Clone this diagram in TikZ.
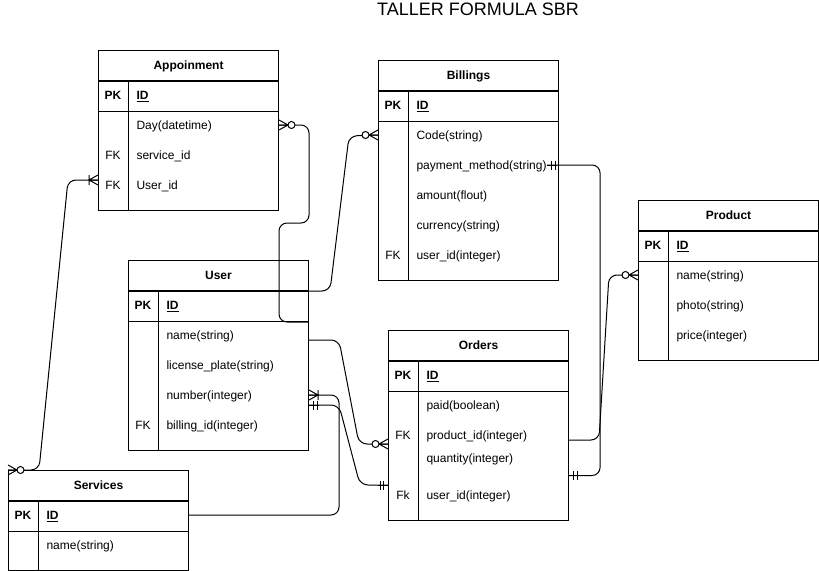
\documentclass[tikz,border=0pt]{standalone}
\usepackage{fontspec}
\setmainfont{Liberation Sans}
\usetikzlibrary{calc}

\newcommand{\erfont}{\fontsize{9}{11}\selectfont}

\tikzset{
  tbl/.style={draw, anchor=north west, minimum width=135pt, inner sep=0pt},
  tblhead/.style={draw, anchor=north west, minimum width=135pt, minimum height=22.5pt, inner sep=0pt, text height=6.5pt, text depth=0pt, font=\erfont\bfseries},
  pk/.style={inner sep=0pt, text height=6.5pt, text depth=0pt, font=\erfont\bfseries},
  fk/.style={inner sep=0pt, text height=6.5pt, text depth=0pt, font=\erfont},
  fld/.style={anchor=west, inner sep=0pt, text height=6.5pt, text depth=0pt, font=\erfont},
  conn/.style={draw, rounded corners=6pt},
  zmany/.pic={
    \draw (0,-5) -- (9,0) -- (0,5) (0,0) -- (9,0);
    \draw[fill=white] (12.5,0) circle [radius=3.5];
  },
  omany/.pic={
    \draw (0,-5) -- (9,0) -- (0,5) (0,0) -- (9,0) (9,-5) -- (9,5);
  },
  mone/.pic={
    \draw (0,0) -- (10,0) (4.5,-4.5) -- (4.5,4.5) (8,-4.5) -- (8,4.5);
  }
}

\begin{document}
\begin{tikzpicture}[x=0.75pt, y=-0.75pt, line width=0.75pt]
  \useasboundingbox (0,0) rectangle (819,571);

  \node[inner sep=0pt, text height=9.7pt, text depth=0pt, font=\fontsize{13.5}{16}\selectfont] (title) at (478,9.5) {TALLER FORMULA SBR};

  % Appoinment
  \node[tbl, minimum height=120pt] (app) at (98,50) {};
  \node[tblhead] (app-h) at (app.north west) {Appoinment};
  \node[tblhead] (app-p) at (app-h.south west) {};
  \draw ($(app-p.north west)+(30,0)$) -- ($(app.south west)+(30,0)$);
  \node[pk] (app-pk) at (113,95) {PK};
  \node[fld] (app-id) at (136,95) {\bfseries\underline{ID}};
  \node[fld] (app-day) at (136,125) {Day(datetime)};
  \node[fk] (app-fk1) at (113,155) {FK};
  \node[fld] (app-sid) at (136,155) {service\_id};
  \node[fk] (app-fk2) at (113,185) {FK};
  \node[fld] (app-uid) at (136,185) {User\_id};

  % Billings
  \node[tbl, minimum height=165pt] (bil) at (378,60) {};
  \node[tblhead] (bil-h) at (bil.north west) {Billings};
  \node[tblhead] (bil-p) at (bil-h.south west) {};
  \draw ($(bil-p.north west)+(30,0)$) -- ($(bil.south west)+(30,0)$);
  \node[pk] (bil-pk) at (393,105) {PK};
  \node[fld] (bil-id) at (416,105) {\bfseries\underline{ID}};
  \node[fld] (bil-code) at (416,135) {Code(string)};
  \node[fld] (bil-pay) at (416,165) {payment\_method(string)};
  \node[fld] (bil-amt) at (416,195) {amount(flout)};
  \node[fld] (bil-cur) at (416,225) {currency(string)};
  \node[fk] (bil-fk) at (393,255) {FK};
  \node[fld] (bil-uid) at (416,255) {user\_id(integer)};

  % Product
  \node[tbl, minimum height=120pt] (prod) at (638,200) {};
  \node[tblhead] (prod-h) at (prod.north west) {Product};
  \node[tblhead] (prod-p) at (prod-h.south west) {};
  \draw ($(prod-p.north west)+(30,0)$) -- ($(prod.south west)+(30,0)$);
  \node[pk] (prod-pk) at (653,245) {PK};
  \node[fld] (prod-id) at (676,245) {\bfseries\underline{ID}};
  \node[fld] (prod-name) at (676,275) {name(string)};
  \node[fld] (prod-photo) at (676,305) {photo(string)};
  \node[fld] (prod-price) at (676,335) {price(integer)};

  % User
  \node[tbl, minimum height=142.5pt] (user) at (128,260) {};
  \node[tblhead] (user-h) at (user.north west) {User};
  \node[tblhead] (user-p) at (user-h.south west) {};
  \draw ($(user-p.north west)+(30,0)$) -- ($(user.south west)+(30,0)$);
  \node[pk] (user-pk) at (143,305) {PK};
  \node[fld] (user-id) at (166,305) {\bfseries\underline{ID}};
  \node[fld] (user-name) at (166,335) {name(string)};
  \node[fld] (user-lic) at (166,365) {license\_plate(string)};
  \node[fld] (user-num) at (166,395) {number(integer)};
  \node[fk] (user-fk) at (143,425) {FK};
  \node[fld] (user-bid) at (166,425) {billing\_id(integer)};

  % Orders
  \node[tbl, minimum height=142.5pt] (ord) at (388,330) {};
  \node[tblhead] (ord-h) at (ord.north west) {Orders};
  \node[tblhead] (ord-p) at (ord-h.south west) {};
  \draw ($(ord-p.north west)+(30,0)$) -- ($(ord.south west)+(30,0)$);
  \node[pk] (ord-pk) at (403,375) {PK};
  \node[fld] (ord-id) at (426,375) {\bfseries\underline{ID}};
  \node[fld] (ord-paid) at (426,405) {paid(boolean)};
  \node[fk] (ord-fk1) at (403,435) {FK};
  \node[fld] (ord-prod) at (426,435) {product\_id(integer)};
  \node[fld] (ord-qty) at (426,458) {quantity(integer)};
  \node[fk] (ord-fk2) at (403,495) {Fk};
  \node[fld] (ord-uid) at (426,495) {user\_id(integer)};

  % Services
  \node[tbl, minimum height=75pt] (srv) at (8,470) {};
  \node[tblhead] (srv-h) at (srv.north west) {Services};
  \node[tblhead] (srv-p) at (srv-h.south west) {};
  \draw ($(srv-p.north west)+(30,0)$) -- ($(srv.south west)+(30,0)$);
  \node[pk] (srv-pk) at (23,515) {PK};
  \node[fld] (srv-id) at (46,515) {\bfseries\underline{ID}};
  \node[fld] (srv-name) at (46,545) {name(string)};

  % relations
  \draw[conn] (app-day -| app.east) -- ++(30,0) -- ++(0,98) -- ++(-30,0) -- ++(0,99) -- ++(30,0);
  \pic at (app-day -| app.east) {zmany};

  \draw[conn] (user-h.south east) -- ++(21,0) -- ++(19,-155) -- (bil-code -| bil.west);
  \pic[rotate=180] at (bil-code -| bil.west) {zmany};

  \draw[conn] (bil-pay.east) -- ++(53,0) |- ($(ord.east)+(0,50)$);
  \pic at (bil-pay.east) {mone};
  \pic at ($(ord.east)+(0,50)$) {mone};

  \draw[conn] ($(ord-prod -| ord.east)+(0,5)$) -- ++(30,0) -- ++(10,-165) -- (prod-name -| prod.west);
  \pic[rotate=180] at (prod-name -| prod.west) {zmany};

  \draw[conn] ($(user-name -| user.east)+(0,5)$) -- ++(30,0) -- ++(20,104) -- ($(ord-prod -| ord.west)+(0,9)$);
  \pic[rotate=180] at ($(ord-prod -| ord.west)+(0,9)$) {zmany};

  \draw[conn] (user-num -| user.east) -- ++(30,0) |- (srv-pk -| srv.east);
  \pic at (user-num -| user.east) {omany};

  \draw[conn] ($(user-num -| user.east)+(0,10)$) -- ++(30,0) -- ++(21,80) -- ($(ord-uid -| ord.west)+(0,-10)$);
  \pic at ($(user-num -| user.east)+(0,10)$) {mone};
  \pic[rotate=180] at ($(ord-uid -| ord.west)+(0,-10)$) {mone};

  \draw[conn] (srv.north west) -- ++(31,0) -- ++(29,-290) -- ($(app-uid -| app.west)+(0,-5)$);
  \pic at (srv.north west) {zmany};
  \pic[rotate=180] at ($(app-uid -| app.west)+(0,-5)$) {omany};
\end{tikzpicture}
\end{document}
